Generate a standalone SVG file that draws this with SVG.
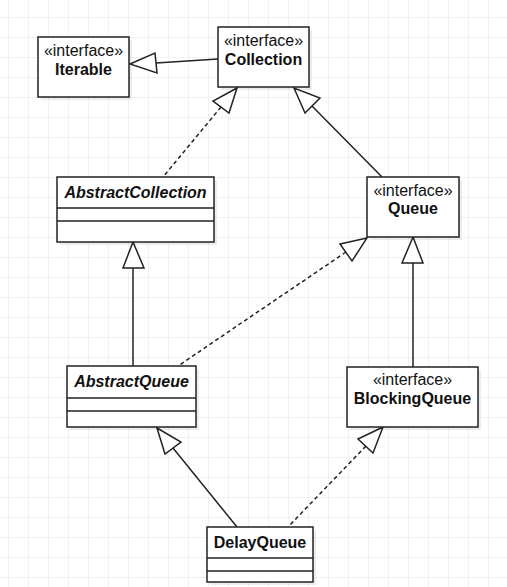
<svg xmlns="http://www.w3.org/2000/svg" width="507" height="587" viewBox="0 0 507 587">
<style>
.box{fill:#fff;stroke:#222;stroke-width:1.5}
.sh{fill:#000;opacity:0.07}
.div{stroke:#222;stroke-width:1.5;fill:none}
.st{font-family:"Liberation Sans",Arial,sans-serif;font-size:16px;fill:#111;text-anchor:middle}
.nm{font-family:"Liberation Sans",Arial,sans-serif;font-size:16px;font-weight:bold;fill:#111;text-anchor:middle}
.it{font-style:italic}
.ln{stroke:#222;stroke-width:1.5;fill:none}
.dash{stroke-dasharray:4 3}
.tri{fill:#fff;stroke:#222;stroke-width:1.5;stroke-linejoin:miter}
</style>
<defs>
<pattern id="grid" width="20" height="20" patternUnits="userSpaceOnUse" x="8" y="17">
<path d="M0 0H20M0 0V20" stroke="#e4e4e4" stroke-width="1" fill="none"/>
</pattern>
</defs>
<rect width="507" height="587" fill="#fff"/>
<rect width="507" height="587" fill="url(#grid)"/>

<g id="connectors">
<!-- Collection -> Iterable -->
<line class="ln" x1="156" y1="63" x2="218" y2="59"/>
<polygon class="tri" points="130,64 155,53 157,73"/>
<!-- AbstractCollection -> Collection (dashed) -->
<line class="ln dash" x1="221" y1="107" x2="163" y2="177"/>
<polygon class="tri" points="237,88 213,101 229,113"/>
<!-- Queue -> Collection -->
<line class="ln" x1="312" y1="106" x2="382" y2="177"/>
<polygon class="tri" points="294,88 305,113 320,98"/>
<!-- AbstractQueue -> AbstractCollection -->
<line class="ln" x1="133" y1="268" x2="133" y2="366"/>
<polygon class="tri" points="133,242 123,268 144,268"/>
<!-- AbstractQueue -> Queue (dashed) -->
<line class="ln dash" x1="346" y1="252" x2="178" y2="366"/>
<polygon class="tri" points="367,238 340,244 352,261"/>
<!-- BlockingQueue -> Queue -->
<line class="ln" x1="413" y1="263" x2="413" y2="367"/>
<polygon class="tri" points="413,237 402,263 423,263"/>
<!-- DelayQueue -> AbstractQueue -->
<line class="ln" x1="173" y1="448" x2="237" y2="527"/>
<polygon class="tri" points="157,428 181,442 165,454"/>
<!-- DelayQueue -> BlockingQueue (dashed) -->
<line class="ln dash" x1="366" y1="446" x2="288" y2="527"/>
<polygon class="tri" points="383,427 358,439 373,453"/>
</g>

<g id="Iterable">
<rect class="sh" x="41" y="40" width="91" height="60"/>
<rect class="box" x="38" y="37" width="91" height="60"/>
<text class="st" x="83.5" y="56">«interface»</text>
<text class="nm" x="83.5" y="75">Iterable</text>
</g>

<g id="Collection">
<rect class="sh" x="221" y="30" width="91" height="60"/>
<rect class="box" x="218" y="27" width="91" height="60"/>
<text class="st" x="263.5" y="46">«interface»</text>
<text class="nm" x="263.5" y="65">Collection</text>
</g>

<g id="AbstractCollection">
<rect class="sh" x="60" y="180" width="157" height="65"/>
<rect class="box" x="57" y="177" width="157" height="65"/>
<line class="div" x1="57" y1="208" x2="214" y2="208"/>
<line class="div" x1="57" y1="221" x2="214" y2="221"/>
<text class="nm it" x="135.5" y="198">AbstractCollection</text>
</g>

<g id="Queue">
<rect class="sh" x="370" y="180" width="92" height="60"/>
<rect class="box" x="367" y="177" width="92" height="60"/>
<text class="st" x="413" y="196">«interface»</text>
<text class="nm" x="413" y="214">Queue</text>
</g>

<g id="AbstractQueue">
<rect class="sh" x="70" y="369" width="129" height="61"/>
<rect class="box" x="67" y="366" width="129" height="61"/>
<line class="div" x1="67" y1="398" x2="196" y2="398"/>
<line class="div" x1="67" y1="411" x2="196" y2="411"/>
<text class="nm it" x="131.5" y="387">AbstractQueue</text>
</g>

<g id="BlockingQueue">
<rect class="sh" x="350" y="370" width="131" height="60"/>
<rect class="box" x="347" y="367" width="131" height="60"/>
<text class="st" x="412.5" y="385">«interface»</text>
<text class="nm" x="412.5" y="404">BlockingQueue</text>
</g>

<g id="DelayQueue">
<rect class="sh" x="210" y="530" width="106" height="55"/>
<rect class="box" x="207" y="527" width="106" height="55"/>
<line class="div" x1="207" y1="558" x2="313" y2="558"/>
<line class="div" x1="207" y1="571" x2="313" y2="571"/>
<text class="nm" x="260" y="548">DelayQueue</text>
</g>
</svg>
